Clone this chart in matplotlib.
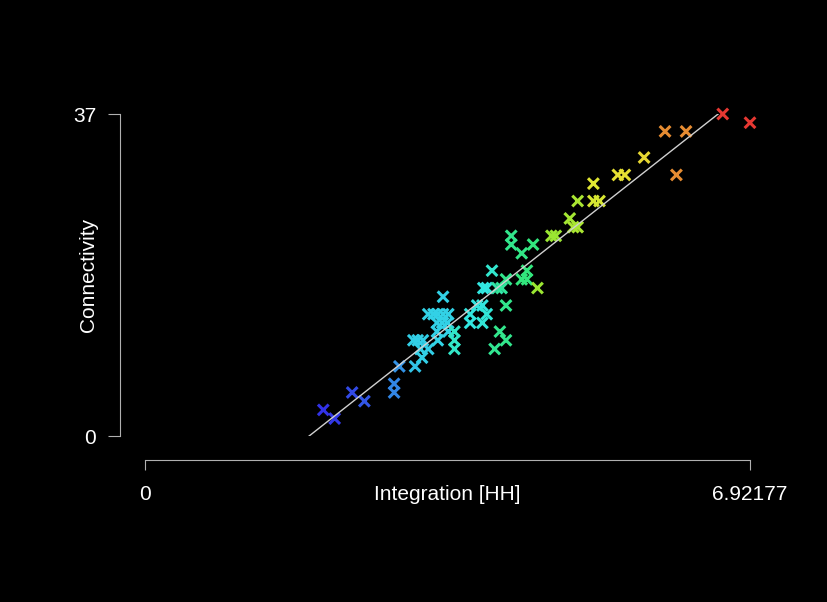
import numpy as np
import matplotlib
matplotlib.use('Agg')
import matplotlib.pyplot as plt
from matplotlib.colors import hsv_to_rgb

plt.rcParams['font.family'] = ['Liberation Sans', 'DejaVu Sans']

# Integration [HH] and Connectivity per node
integration = [2.04, 2.17, 2.37, 2.51, 2.85, 2.85, 2.91, 3.09, 3.17, 3.15,
               3.24, 3.07, 3.12, 3.18, 3.35, 3.34, 3.47, 3.24, 3.30, 3.35,
               3.41, 3.47, 3.34, 3.40, 3.46, 3.41, 3.54, 3.54, 3.54, 3.72,
               3.72, 3.80, 3.86, 3.91, 3.86, 3.87, 3.91, 3.97, 4.03, 4.08,
               4.13, 4.13, 4.06, 4.13, 4.00, 4.19, 4.19, 4.31, 4.44, 4.31,
               4.37, 4.37, 4.49, 4.65, 4.70, 4.86, 4.90, 4.95, 4.95, 5.13,
               5.20, 5.13, 5.41, 5.49, 5.71, 5.95, 6.19, 6.08, 6.61, 6.92177]
connectivity = [3, 2, 5, 4, 6, 5, 8, 8, 9, 10,
                10, 11, 11, 11, 11, 12, 12, 14, 14, 14,
                14, 14, 13, 13, 13, 16, 12, 11, 10, 14,
                13, 15, 15, 14, 13, 17, 17, 19, 17, 17,
                18, 15, 12, 11, 10, 23, 22, 21, 22, 18,
                19, 18, 17, 23, 23, 25, 24, 24, 27, 27,
                27, 29, 30, 30, 32, 35, 35, 30, 37, 36]
# colour of each cross, as a hue in degrees (blue 240 ... red 0)
colour_hue = [240, 238, 232, 228, 212, 212, 208, 192, 188, 188,
              188, 188, 188, 188, 186, 187, 187, 187, 187, 187,
              187, 187, 187, 187, 187, 187, 170, 170, 170, 178,
              178, 178, 178, 175, 175, 178, 178, 172, 160, 155,
              150, 150, 150, 150, 152, 150, 150, 148, 145, 145,
              145, 145, 85, 85, 85, 82, 80, 80, 80, 65,
              65, 62, 58, 58, 55, 30, 30, 30, 2, 2]

x = np.array(integration)
y = np.array(connectivity)
xmax = 6.92177
ymax = 37

fig = plt.figure(figsize=(8.27, 6.02), dpi=100, facecolor='black')
ax = fig.add_axes([145 / 827, 166 / 602, 605 / 827, 322 / 602])
ax.set_facecolor('black')
ax.set_xlim(0, xmax)
ax.set_ylim(0, ymax)

hue = np.array(colour_hue) / 360
cols = hsv_to_rgb(np.column_stack([hue, np.full_like(hue, 0.78), np.full_like(hue, 0.9)]))

ax.scatter(x, y, marker='x', c=cols, s=60, linewidths=2.2, clip_on=False, zorder=3)

# linear fit
slope, icpt = np.polyfit(x, y, 1)
ax.axline((0, icpt), slope=slope, color='#d0d0d0', lw=1, zorder=4)

ax.spines['top'].set_visible(False)
ax.spines['right'].set_visible(False)
ax.spines['left'].set_position(('outward', 18))
ax.spines['bottom'].set_position(('outward', 17.3))
ax.spines['left'].set_bounds(0, ymax)
ax.spines['bottom'].set_bounds(0, xmax)
ax.spines['left'].set_color('#b0b0b0')
ax.spines['bottom'].set_color('#b0b0b0')

ax.set_xticks([0, xmax])
ax.set_xticklabels(['0', '6.92177'])
ax.set_yticks([0, ymax])
ax.set_yticklabels(['0', '37'])
ax.tick_params(axis='x', colors='#b0b0b0', labelcolor='white', labelsize=15, length=7.2, pad=11)
ax.tick_params(axis='y', colors='#b0b0b0', labelcolor='white', labelsize=15, length=8.6, pad=8.6)

ax.set_xlabel('Integration [HH]', color='white', fontsize=15, va='center')
ax.xaxis.set_label_coords(0.5, -0.183)
ax.set_ylabel('Connectivity', color='white', fontsize=15, va='center')
ax.yaxis.set_label_coords(-0.094, 0.5)

fig.savefig('out.png', dpi=100, facecolor='black')
